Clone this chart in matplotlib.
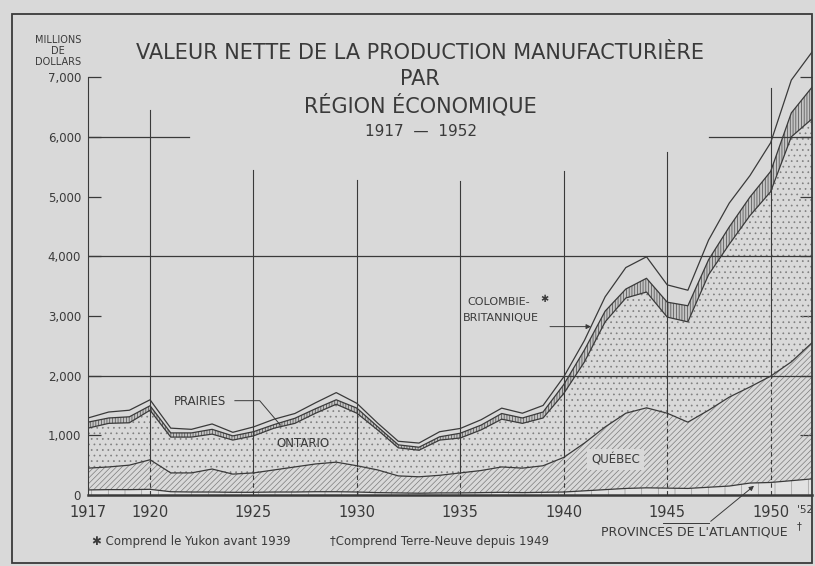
import numpy as np
import matplotlib
matplotlib.use("Agg")
import matplotlib.pyplot as plt
from matplotlib.patches import Rectangle

# valeur nette, millions de dollars
years = list(range(1917, 1953))

atlantique = [85, 90, 90, 95, 55, 50, 50, 45, 45, 50, 50, 55, 55, 50, 40, 35, 30, 35,
              35, 40, 45, 40, 45, 50, 70, 90, 110, 120, 115, 110, 130, 150, 200, 210, 240, 270]
quebec = [365, 380, 410, 495, 315, 320, 385, 305, 325, 370, 420, 465, 495, 440, 380, 285, 275, 295,
          335, 370, 425, 410, 445, 580, 800, 1050, 1260, 1340, 1255, 1110, 1290, 1490, 1610, 1780, 1990, 2280]
ontario = [670, 730, 710, 830, 600, 600, 585, 570, 620, 700, 730, 850, 970, 880, 670, 470, 445, 590,
           585, 680, 800, 750, 800, 1070, 1360, 1760, 1930, 1940, 1610, 1680, 2270, 2560, 2870, 3090, 3770, 3750]
prairies = [100, 90, 100, 75, 70, 70, 80, 70, 70, 60, 85, 75, 75, 85, 55, 50, 50, 55,
            80, 80, 95, 90, 100, 150, 200, 180, 150, 230, 250, 270, 250, 290, 310, 340, 400, 530]
colombie = [70, 100, 110, 100, 80, 60, 90, 60, 80, 90, 80, 100, 120, 80, 60, 60, 70, 85,
            80, 90, 90, 80, 110, 130, 160, 240, 360, 360, 290, 260, 330, 400, 360, 480, 550, 590]

yticks = [0, 1000, 2000, 3000, 4000, 5000, 6000, 7000]
xtick_years = [1917, 1920, 1925, 1930, 1935, 1940, 1945, 1950]

BG = "#d9d9d9"
INK = "#3a3a3a"
plt.rcParams["hatch.linewidth"] = 0.5
plt.rcParams["font.family"] = ["DejaVu Sans"]

fig = plt.figure(figsize=(8.15, 5.66), dpi=100)
fig.patch.set_facecolor(BG)

# px -> figure fractions: 0 at y=495, 1917 at x=88, 1952 at x=812
ax = fig.add_axes([88 / 815, 71 / 566, 724 / 815, 481 / 566])
ax.set_facecolor("none")
ax.set_xlim(1917, 1952)
ax.set_ylim(0, 8057)

layers = np.cumsum(np.vstack([atlantique, quebec, ontario, prairies, colombie]), axis=0)
c_atl, c_que, c_ont, c_pra, c_tot = layers

ax.fill_between(years, 0, c_atl, facecolor="#e2e2e2", edgecolor="#9a9a9a", hatch="|", lw=0, zorder=2)
ax.fill_between(years, c_atl, c_que, facecolor="none", edgecolor="#7c7c7c", hatch="//////", lw=0, zorder=2)
ax.fill_between(years, c_que, c_ont, facecolor="none", edgecolor="#7e7e7e", hatch="...", lw=0, zorder=2)
ax.fill_between(years, c_ont, c_pra, facecolor="#c4c4c4", edgecolor="#4a4a4a", hatch="||||||", lw=0, zorder=2)
for c in layers:
    ax.plot(years, c, color=INK, lw=0.9, zorder=4)

# quadrillage partiel comme sur l'original
grid_tops = [6450, 5440, 5280, 5260, 5430, 5750, 6820]
for yr, top in zip(xtick_years[1:], grid_tops):
    q = np.interp(yr, years, c_que)
    ax.plot([yr, yr], [q, top], color=INK, lw=0.8, zorder=3)
    ax.plot([yr, yr], [0, q], color=INK, lw=0.8, ls=(0, (4, 3)), zorder=3)
ax.plot([1917, 1952], [2000, 2000], color=INK, lw=0.9, zorder=3)
ax.plot([1917, 1952], [4000, 4000], color=INK, lw=0.9, zorder=3)
ax.plot([1917, 1921.9], [6000, 6000], color=INK, lw=0.9, zorder=3)
ax.plot([1947.0, 1952], [6000, 6000], color=INK, lw=0.9, zorder=3)

for s in ["top", "right"]:
    ax.spines[s].set_visible(False)
ax.spines["left"].set_bounds(0, 7000)
ax.spines["left"].set_color(INK)
ax.spines["bottom"].set_color(INK)
ax.spines["bottom"].set_linewidth(1.8)
ax.spines["bottom"].set_zorder(5)

ax.set_yticks(yticks)
ax.set_yticklabels([f"{v:,}" for v in yticks], fontsize=8.5, color=INK)
ax.tick_params(axis="y", direction="in", length=9, width=0.9, color=INK,
               left=True, right=True, pad=5)
ax.set_xticks(xtick_years)
ax.set_xticklabels([str(y) for y in xtick_years], fontsize=10.5, color=INK)
ax.tick_params(axis="x", length=0, pad=7)
ax.text(1952.05, -170, "'52", fontsize=7.5, color=INK, ha="right", va="top")

# cadre
fig.add_artist(Rectangle((12 / 815, 3 / 566), 800 / 815, 549 / 566, transform=fig.transFigure,
                         fill=False, lw=1.3, ec=INK))

# titre
fig.text(420 / 815, 1 - 53 / 566, "VALEUR NETTE DE LA PRODUCTION MANUFACTURIÈRE",
         ha="center", va="center", fontsize=15, color=INK)
fig.text(420 / 815, 1 - 79 / 566, "PAR", ha="center", va="center", fontsize=15, color=INK)
fig.text(420 / 815, 1 - 105 / 566, "RÉGION ÉCONOMIQUE", ha="center", va="center", fontsize=15, color=INK)
fig.text(421 / 815, 1 - 132 / 566, "1917  —  1952", ha="center", va="center", fontsize=11, color=INK)
fig.text(58 / 815, 1 - 51 / 566, "MILLIONS\nDE\nDOLLARS", ha="center", va="center",
         fontsize=7, color=INK, linespacing=1.1)

# etiquettes des regions
ax.text(1922.4, 1570, "PRAIRIES", fontsize=8.5, color=INK, ha="center", va="center")
ax.plot([1924.1, 1925.3, 1926.3], [1580, 1580, np.interp(1926.3, years, c_pra) - 40],
        color=INK, lw=0.7, zorder=6)
ax.text(1927.4, 860, "ONTARIO", fontsize=8.5, color=INK, ha="center", va="center")
ax.text(1942.5, 590, "QUÉBEC", fontsize=8.5, color=INK, ha="center", va="center", zorder=6,
        bbox=dict(boxstyle="square,pad=0.35", fc=BG, ec="none"))
ax.text(1938.35, 3240, "COLOMBIE-", fontsize=8, color=INK, ha="right", va="center")
ax.text(1939.05, 3290, "✱", fontsize=7, color=INK, ha="center", va="center")
ax.text(1938.8, 2970, "BRITANNIQUE", fontsize=8, color=INK, ha="right", va="center")
x_cb = 1941.45
y_cb = (np.interp(x_cb, years, c_pra) + np.interp(x_cb, years, c_tot)) / 2
ax.annotate("", xy=(x_cb, y_cb), xytext=(1939.2, y_cb),
            arrowprops=dict(arrowstyle="-|>", color=INK, lw=0.7, mutation_scale=7), zorder=6)
ax.annotate("", xy=(1949.3, np.interp(1949.3, years, c_atl) - 20), xytext=(1947.0, -470),
            arrowprops=dict(arrowstyle="-|>", color=INK, lw=0.7, mutation_scale=7),
            annotation_clip=False)
ax.plot([1944.8, 1947.0], [-470, -470], color=INK, lw=0.7, clip_on=False)
fig.text(694 / 815, 1 - 532 / 566, "PROVINCES DE L'ATLANTIQUE", ha="center", va="center",
         fontsize=9, color=INK)
fig.text(799 / 815, 1 - 526 / 566, "†", ha="center", va="center", fontsize=7, color=INK)

# notes
fig.text(92 / 815, 1 - 541 / 566, "✱ Comprend le Yukon avant 1939", ha="left", va="center",
         fontsize=8.5, color=INK)
fig.text(330 / 815, 1 - 541 / 566, "†Comprend Terre-Neuve depuis 1949", ha="left", va="center",
         fontsize=8.5, color=INK)

fig.savefig("out.png", dpi=100, facecolor=BG)
